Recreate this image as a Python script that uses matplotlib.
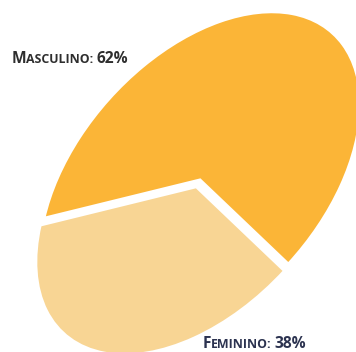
import matplotlib
matplotlib.use("Agg")
import matplotlib.pyplot as plt
from matplotlib.transforms import Affine2D

W, H = 356, 352

categories = ["Masculino", "Feminino"]
shares = [62, 38]
colors = ["#FBB537", "#F8D594"]
explode = [0, 0.04]

fig = plt.figure(figsize=(W / 100, H / 100), dpi=100)
ax = fig.add_axes([0, 0, 1, 1])

wedges, _ = ax.pie(shares, colors=colors, startangle=-91, counterclock=True,
                   radius=1, center=(0, 0), explode=explode,
                   wedgeprops=dict(edgecolor="white", linewidth=2.2))

# tilted elliptical pie: stretch the unit pie and rotate it
cx, cy = 200, H - 180
shape = Affine2D().scale(198, 122).rotate_deg(48).translate(cx, cy)
for w in wedges:
    w.set_transform(shape + ax.transData)

ax.set_xlim(0, W)
ax.set_ylim(0, H)
ax.set_aspect("auto")
ax.axis("off")

fig.canvas.draw()
renderer = fig.canvas.get_renderer()
family = ["Open Sans", "DejaVu Sans"]


def small_caps_label(x, y_px, word, value, color, big=11.2, small=8.9):
    """Draw WORD: value% with a large initial and small-cap remainder."""
    pieces = [(word[0].upper(), big, -0.6),
              (word[1:].upper() + ":", small, 3.0),
              (f"{value}%", big, 0)]
    xpos = x
    for txt, size, gap in pieces:
        t = ax.text(xpos, H - y_px, txt, fontsize=size, fontweight="bold",
                    family=family, color=color, va="baseline", ha="left")
        bb = t.get_window_extent(renderer)
        xpos += bb.width + gap


small_caps_label(12, 63, categories[0], shares[0], "#2e2e2e")
small_caps_label(203, 348, categories[1], shares[1], "#2c3350")

fig.savefig("out.png", dpi=100)
